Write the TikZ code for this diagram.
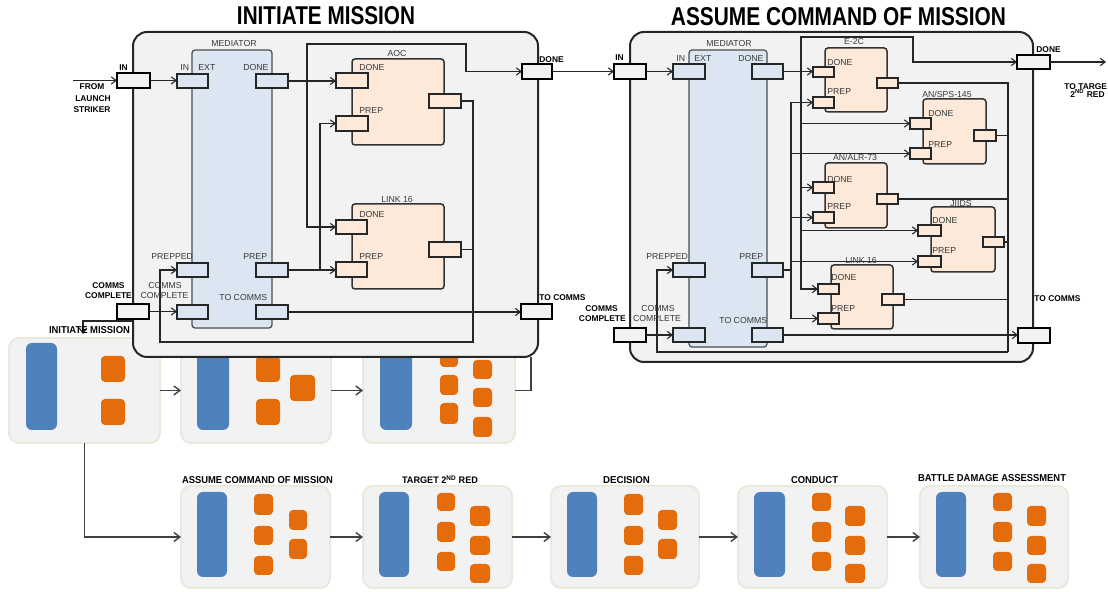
\documentclass[tikz,border=0pt]{standalone}
\usepackage{fontspec}
\setmainfont{Liberation Sans}
\usepackage{graphicx}
\usetikzlibrary{arrows.meta}

\newlength\px
\setlength\px{0.5pt}

\definecolor{panel}{HTML}{F2F2F2}
\definecolor{medfill}{HTML}{DCE6F2}
\definecolor{compfill}{HTML}{FDE9D9}
\definecolor{barblue}{HTML}{4F81BD}
\definecolor{sqorange}{HTML}{E46C0A}
\definecolor{thumbedge}{HTML}{ECE9DC}
\definecolor{ink}{HTML}{3A3A3A}

% box node from its corner coordinates: \bx[style]{name}{x1}{y1}{x2}{y2}
\newcommand\bx[6][]{\node[#1, minimum width={(#5-#3)*0.5pt}, minimum height={(#6-#4)*0.5pt}, inner sep=0pt, outer sep=0pt] (#2) at ({(#3+#5)/2},{(#4+#6)/2}) {};}
% bold caption squeezed to a given width and cap height
\newcommand\fittext[3]{\resizebox{#1\px}{#2\px}{\bfseries #3}}

\tikzset{
  >={Straight Barb[length=2.4pt,width=3.6pt]},
  wire/.style={draw=black!85, line width=0.55pt},
  mainbox/.style={draw=black!85, fill=panel, line width=1pt, rounded corners=7pt},
  medbox/.style={draw=black!70, fill=medfill, line width=0.6pt, rounded corners=1.5pt},
  compbox/.style={draw=black!80, fill=compfill, line width=0.75pt, rounded corners=1.5pt},
  extport/.style={draw=black, fill=panel, line width=0.75pt},
  medport/.style={draw=black!85, fill=medfill, line width=0.75pt},
  compport/.style={draw=black!85, fill=compfill, line width=0.75pt},
  thumb/.style={draw=thumbedge, fill=panel, line width=1pt, rounded corners=5pt},
  bluebar/.style={fill=barblue, rounded corners=3pt},
  chip/.style={fill=sqorange, rounded corners=2pt},
  flow/.style={draw=black!75, line width=0.7pt, -{Straight Barb[length=3pt,width=4.5pt]}},
  lbl/.style={font=\fontsize{4.35}{5}\selectfont, text=ink, inner sep=0pt},
  blbl/.style={font=\fontsize{4.2}{5}\selectfont\bfseries, text=black, inner sep=0pt},
  capt/.style={inner sep=0pt, anchor=base},
}

\begin{document}
\begin{tikzpicture}[x=0.5pt,y=-0.5pt]
\useasboundingbox (0,0) rectangle (1108,592);

% ---------- overview strip, first row ----------
\bx[thumb]{t1}{9}{338}{160}{443}
\bx[bluebar]{t1b}{26}{343}{57}{430}
\bx[chip]{t1o1}{101}{356}{125}{382}
\bx[chip]{t1o2}{101}{399}{125}{425}

\bx[thumb]{t2}{181}{338}{331}{443}
\bx[bluebar]{t2b}{197}{343}{229}{430}
\bx[chip]{t2o1}{256}{356}{280}{382}
\bx[chip]{t2o2}{256}{399}{280}{425}
\bx[chip]{t2o3}{290}{375}{315}{401}

\bx[thumb]{t3}{363}{338}{515}{443}
\bx[bluebar]{t3b}{380}{343}{412}{430}
\bx[chip]{t3o1}{440}{347}{458}{367}
\bx[chip]{t3o2}{440}{375}{458}{395}
\bx[chip]{t3o3}{440}{403}{458}{424}
\bx[chip]{t3o4}{473}{360}{492}{379}
\bx[chip]{t3o5}{473}{388}{492}{407}
\bx[chip]{t3o6}{473}{417}{492}{437}

% ---------- overview strip, second row ----------
\bx[thumb]{t4}{181}{486}{330}{588}
\bx[bluebar]{t4b}{197}{492}{227}{577}
\bx[chip]{t4o1}{254}{494}{273}{515}
\bx[chip]{t4o2}{254}{526}{273}{545}
\bx[chip]{t4o3}{254}{556}{273}{575}
\bx[chip]{t4o4}{289}{510}{307}{530}
\bx[chip]{t4o5}{289}{539}{307}{559}

\bx[thumb]{t5}{363}{486}{512}{588}
\bx[bluebar]{t5b}{379}{492}{409}{577}
\bx[chip]{t5o1}{437}{493}{455}{511}
\bx[chip]{t5o2}{437}{522}{455}{542}
\bx[chip]{t5o3}{437}{552}{455}{571}
\bx[chip]{t5o4}{470}{506}{490}{526}
\bx[chip]{t5o5}{470}{536}{490}{555}
\bx[chip]{t5o6}{470}{564}{490}{583}

\bx[thumb]{t6}{551}{486}{699}{588}
\bx[bluebar]{t6b}{567}{492}{597}{577}
\bx[chip]{t6o1}{624}{494}{643}{515}
\bx[chip]{t6o2}{624}{526}{643}{545}
\bx[chip]{t6o3}{624}{556}{643}{575}
\bx[chip]{t6o4}{658}{510}{677}{530}
\bx[chip]{t6o5}{658}{539}{677}{559}

\bx[thumb]{t7}{738}{486}{887}{588}
\bx[bluebar]{t7b}{754}{492}{785}{577}
\bx[chip]{t7o1}{812}{493}{831}{511}
\bx[chip]{t7o2}{812}{522}{831}{542}
\bx[chip]{t7o3}{812}{552}{831}{571}
\bx[chip]{t7o4}{845}{506}{865}{526}
\bx[chip]{t7o5}{845}{536}{865}{555}
\bx[chip]{t7o6}{845}{564}{865}{583}

\bx[thumb]{t8}{920}{486}{1068}{588}
\bx[bluebar]{t8b}{936}{492}{966}{577}
\bx[chip]{t8o1}{993}{493}{1012}{511}
\bx[chip]{t8o2}{993}{522}{1012}{542}
\bx[chip]{t8o3}{993}{552}{1012}{571}
\bx[chip]{t8o4}{1027}{506}{1046}{526}
\bx[chip]{t8o5}{1027}{536}{1046}{555}
\bx[chip]{t8o6}{1027}{564}{1046}{583}

% strip connectors
\coordinate (t3up) at (531,357);
\draw[flow] (t1) -- (t2);
\draw[flow] (t2) -- (t3);
\draw[flow,-] (t3.east) -| (t3up);
\draw[flow] (t1.south) |- (t4.west);
\draw[flow] (t4) -- (t5);
\draw[flow] (t5) -- (t6);
\draw[flow] (t6) -- (t7);
\draw[flow] (t7) -- (t8);

% ---------- detailed panels ----------
\bx[mainbox]{bigL}{133}{32}{538}{357}
\bx[mainbox]{bigR}{630}{32}{1033}{362}

\bx[medbox]{medL}{192}{50}{272}{328}
\bx[medbox]{medR}{689}{50}{767}{347}

\bx[compbox]{aoc}{352}{59}{444}{145}
\bx[compbox]{l16L}{352}{204}{444}{289}
\bx[compbox]{e2c}{825}{48}{887}{112}
\bx[compbox]{sps}{923}{99}{986}{164}
\bx[compbox]{alr}{825}{163}{887}{228}
\bx[compbox]{jiids}{931}{207}{995}{272}
\bx[compbox]{l16R}{831}{265}{893}{329}

% ports of the left panel
\bx[extport]{inL}{117}{73}{150}{88}
\bx[extport]{ccL}{117}{304}{149}{319}
\bx[extport]{doneL}{522}{64}{552}{79}
\bx[extport]{tcL}{521}{304}{552}{319}
\bx[medport]{mLin}{177}{74}{208}{88}
\bx[medport]{mLdone}{256}{74}{288}{88}
\bx[medport]{mLprepped}{177}{263}{208}{277}
\bx[medport]{mLprep}{256}{263}{288}{277}
\bx[medport]{mLcc}{177}{305}{208}{319}
\bx[medport]{mLtc}{256}{305}{288}{319}
\bx[compport]{aocDone}{336}{73}{368}{88}
\bx[compport]{aocPrep}{336}{116}{368}{131}
\bx[compport]{aocOut}{429}{94}{461}{108}
\bx[compport]{l16Ldone}{336}{220}{367}{234}
\bx[compport]{l16Lprep}{336}{262}{367}{277}
\bx[compport]{l16Lout}{429}{242}{461}{257}

% ports of the right panel
\bx[extport]{inR}{614}{64}{646}{79}
\bx[extport]{ccR}{614}{328}{646}{342}
\bx[extport]{doneR}{1017}{55}{1050}{69}
\bx[extport]{tcR}{1018}{328}{1050}{343}
\bx[medport]{mRin}{673}{64}{705}{79}
\bx[medport]{mRdone}{752}{64}{783}{79}
\bx[medport]{mRprepped}{673}{263}{705}{277}
\bx[medport]{mRprep}{752}{263}{783}{277}
\bx[medport]{mRcc}{673}{328}{705}{342}
\bx[medport]{mRtc}{752}{328}{783}{342}
\bx[compport]{e2cDone}{813}{67}{834}{77}
\bx[compport]{e2cPrep}{813}{97}{834}{108}
\bx[compport]{e2cOut}{877}{78}{898}{88}
\bx[compport]{spsDone}{910}{118}{931}{129}
\bx[compport]{spsPrep}{910}{148}{931}{159}
\bx[compport]{spsOut}{974}{130}{996}{141}
\bx[compport]{alrDone}{813}{182}{834}{193}
\bx[compport]{alrPrep}{813}{212}{834}{223}
\bx[compport]{alrOut}{877}{194}{898}{204}
\bx[compport]{jiidsDone}{918}{225}{941}{236}
\bx[compport]{jiidsPrep}{918}{256}{941}{267}
\bx[compport]{jiidsOut}{983}{237}{1004}{247}
\bx[compport]{l16Rdone}{818}{284}{839}{294}
\bx[compport]{l16Rprep}{818}{313}{839}{324}
\bx[compport]{l16Rout}{882}{294}{904}{305}

% ---------- wiring, left panel ----------
\coordinate (fromL) at (73,81);
\coordinate (jLa) at (307,81);
\coordinate (jLb) at (466,44);
\coordinate (jLc) at (320,270);
\coordinate (fbL1) at (473,342);
\coordinate (fbL2) at (160,342);
\coordinate (imA) at (133,321);
\coordinate (imB) at (83,334);
\draw[wire,->] (fromL |- inL.west) -- (inL.west);
\draw[wire,->] (inL.east) -- (inL.east -| mLin.west);
\draw[wire,->] (mLdone.east) -- (mLdone.east -| aocDone.west);
\draw[wire,->] (jLa) |- (l16Ldone.west);
\draw[wire,->] (jLa) |- (jLb) |- (doneL.west);
\draw[wire,->] (mLprep.east) -- (mLprep.east -| l16Lprep.west);
\draw[wire,->] (jLc) |- (aocPrep.west);
\draw[wire,->] (aocOut.east) -| (fbL1) -- (fbL2) |- (mLprepped.west);
\draw[wire] (l16Lout.east) -- (l16Lout.east -| fbL1);
\draw[wire,->] (ccL.east) -- (ccL.east -| mLcc.west);
\draw[wire,->] (mLtc.east) -- (mLtc.east -| tcL.west);
\draw[wire,->] (doneL.east) -- (doneL.east -| inR.west);
\draw[wire,->] (imA) -| (imB);

% ---------- wiring, right panel ----------
\coordinate (jRa) at (801,71.5);
\coordinate (jRb) at (913,37);
\coordinate (jRc) at (791,270);
\coordinate (fbR1) at (1008,352);
\coordinate (fbR2) at (657,352);
\coordinate (toT) at (1106,62);
\draw[wire,->] (inR.east) -- (inR.east -| mRin.west);
\draw[wire,->] (ccR.east) -- (ccR.east -| mRcc.west);
\draw[wire,->] (mRtc.east) -- (mRtc.east -| tcR.west);
\draw[wire,->] (mRdone.east) -- (mRdone.east -| e2cDone.west);
\draw[wire,->] (jRa) |- (jRb) |- (doneR.west);
\draw[wire,->] (jRa) |- (spsDone.west);
\draw[wire,->] (jRa) |- (alrDone.west);
\draw[wire,->] (jRa) |- (jiidsDone.west);
\draw[wire,->] (jRa) |- (l16Rdone.west);
\draw[wire] (mRprep.east) -- (jRc);
\draw[wire,->] (jRc) |- (e2cPrep.west);
\draw[wire,->] (jRc) |- (spsPrep.west);
\draw[wire,->] (jRc) |- (alrPrep.west);
\draw[wire,->] (jRc) |- (jiidsPrep.west);
\draw[wire,->] (jRc) |- (l16Rprep.west);
\draw[wire] (e2cOut.east) -| (fbR1);
\draw[wire] (spsOut.east) -- (spsOut.east -| fbR1);
\draw[wire] (alrOut.east) -- (alrOut.east -| fbR1);
\draw[wire] (jiidsOut.east) -- (jiidsOut.east -| fbR1);
\draw[wire] (l16Rout.east) -- (l16Rout.east -| fbR1);
\draw[wire,->] (fbR1) -- (fbR2) |- (mRprepped.west);
\draw[wire,->] (doneR.east) -- (doneR.east -| toT);

% ---------- titles ----------
\node[capt] (ttlL) at (326,25) {\fittext{178}{18}{INITIATE MISSION}};
\node[capt] (ttlR) at (838.5,26) {\fittext{335}{18}{ASSUME COMMAND OF MISSION}};
\node[capt] (imLbl) at (89.5,334) {\fittext{81}{7}{INITIATE MISSION}};
\node[capt] (c4) at (257.5,484) {\fittext{151}{7}{ASSUME COMMAND OF MISSION}};
\node[capt] (c5) at (440,484) {\fittext{76}{8}{TARGET 2\textsuperscript{ND} RED}};
\node[capt] (c6) at (626.5,484) {\fittext{47}{7}{DECISION}};
\node[capt] (c7) at (814.5,484) {\fittext{47}{7}{CONDUCT}};
\node[capt] (c8) at (992,482) {\fittext{148}{7}{BATTLE DAMAGE ASSESSMENT}};

% ---------- labels, left panel ----------
\node[lbl, anchor=base] (lm1) at (234,47) {MEDIATOR};
\node[lbl, anchor=base west] (lm2) at (180,71) {IN};
\node[lbl, anchor=base west] (lm3) at (198,71) {EXT};
\node[lbl, anchor=base west] (lm4) at (243,71) {DONE};
\node[lbl, anchor=base west] (lm5) at (151,260) {PREPPED};
\node[lbl, anchor=base west] (lm6) at (243,260) {PREP};
\node[lbl, anchor=base] (lm7) at (165,289) {COMMS};
\node[lbl, anchor=base] (lm8) at (164.5,299) {COMPLETE};
\node[lbl, anchor=base west] (lm9) at (219,301) {TO COMMS};
\node[lbl, anchor=base] (la1) at (397,57) {AOC};
\node[lbl, anchor=base west] (la2) at (359,71) {DONE};
\node[lbl, anchor=base west] (la3) at (359,114) {PREP};
\node[lbl, anchor=base] (ll1) at (397,203) {LINK 16};
\node[lbl, anchor=base west] (ll2) at (359,218) {DONE};
\node[lbl, anchor=base west] (ll3) at (359,260) {PREP};

\node[blbl, anchor=base west] (bInL) at (119,71) {IN};
\node[blbl, anchor=base] (bF1) at (92,90) {FROM};
\node[blbl, anchor=base] (bF2) at (93,102) {LAUNCH};
\node[blbl, anchor=base] (bF3) at (92,113) {STRIKER};
\node[blbl, anchor=base] (bCC1) at (108.5,289) {COMMS};
\node[blbl, anchor=base] (bCC2) at (108.5,299) {COMPLETE};
\node[blbl, anchor=base west] (bDoneL) at (539,63) {DONE};
\node[blbl, anchor=base west] (bTcL) at (539,301) {TO COMMS};

% ---------- labels, right panel ----------
\node[lbl, anchor=base] (rm1) at (729,47) {MEDIATOR};
\node[lbl, anchor=base west] (rm2) at (676,62) {IN};
\node[lbl, anchor=base west] (rm3) at (694,62) {EXT};
\node[lbl, anchor=base west] (rm4) at (738,62) {DONE};
\node[lbl, anchor=base west] (rm5) at (646,260) {PREPPED};
\node[lbl, anchor=base west] (rm6) at (739,260) {PREP};
\node[lbl, anchor=base] (rm7) at (658,312) {COMMS};
\node[lbl, anchor=base] (rm8) at (657,322) {COMPLETE};
\node[lbl, anchor=base west] (rm9) at (719,324) {TO COMMS};
\node[lbl, anchor=base] (re1) at (854,45) {E-2C};
\node[lbl, anchor=base west] (re2) at (827,66) {DONE};
\node[lbl, anchor=base west] (re3) at (827,95) {PREP};
\node[lbl, anchor=base] (rs1) at (947,98) {AN/SPS-145};
\node[lbl, anchor=base west] (rs2) at (928,117) {DONE};
\node[lbl, anchor=base west] (rs3) at (928,148) {PREP};
\node[lbl, anchor=base] (ra1) at (855,161) {AN/ALR-73};
\node[lbl, anchor=base west] (ra2) at (827,183) {DONE};
\node[lbl, anchor=base west] (ra3) at (827,210) {PREP};
\node[lbl, anchor=base] (rj1) at (961,207) {JIIDS};
\node[lbl, anchor=base west] (rj2) at (932,224) {DONE};
\node[lbl, anchor=base west] (rj3) at (932,254) {PREP};
\node[lbl, anchor=base] (rl1) at (861,264) {LINK 16};
\node[lbl, anchor=base west] (rl2) at (831,281) {DONE};
\node[lbl, anchor=base west] (rl3) at (831,312) {PREP};

\node[blbl, anchor=base west] (bInR) at (615,61) {IN};
\node[blbl, anchor=base east] (bCC3) at (618,312) {COMMS};
\node[blbl, anchor=base east] (bCC4) at (626,322) {COMPLETE};
\node[blbl, anchor=base west] (bDoneR) at (1036,53) {DONE};
\node[blbl, anchor=base west] (bTcR) at (1034,302) {TO COMMS};
\node[blbl, anchor=base west] (bTo1) at (1064,90) {TO TARGE};
\node[blbl, anchor=base west] (bTo2) at (1070,98) {2\textsuperscript{ND} RED};
\end{tikzpicture}
\end{document}
